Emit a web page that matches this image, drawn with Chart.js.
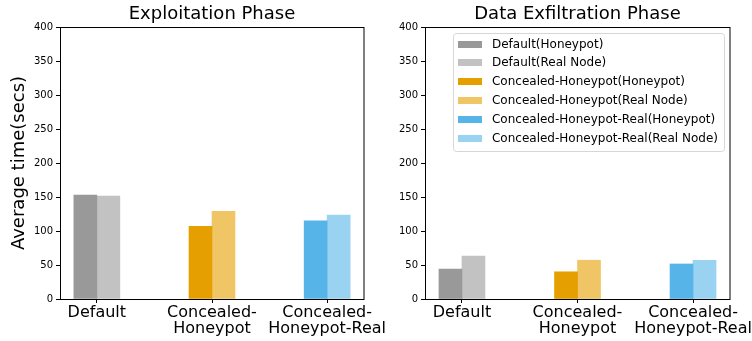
<!DOCTYPE html>
<html>
<head>
<meta charset="utf-8">
<script src="https://cdn.jsdelivr.net/npm/chart.js@4/dist/chart.umd.min.js"></script>
<style>
  body { margin: 0; background: #fff; }
  #wrap { position: relative; width: 752px; height: 341px; overflow: hidden; }
  canvas { position: absolute; top: 0; }
</style>
</head>
<body>
<div id="wrap">
  <canvas id="left" width="400" height="341" style="left:0"></canvas>
  <canvas id="right" width="376" height="341" style="left:376px"></canvas>
</div>
<script>
var categories = [['Default'], ['Concealed-', 'Honeypot'], ['Concealed-', 'Honeypot-Real']];
var exploitHoneypot = [153, 107, 115];
var exploitReal = [151.5, 129, 123.5];
var exfilHoneypot = [44, 40, 51.5];
var exfilReal = [63, 57, 57];
var honeypotColors = ['#999999', '#E69F00', '#56B4E9'];
var realColors = ['#C2C2C2', '#F0C566', '#9AD2F2'];
var legendLabels = [
  'Default(Honeypot)', 'Default(Real Node)',
  'Concealed-Honeypot(Honeypot)', 'Concealed-Honeypot(Real Node)',
  'Concealed-Honeypot-Real(Honeypot)', 'Concealed-Honeypot-Real(Real Node)'
];
var legendColors = ['#999999', '#C2C2C2', '#E69F00', '#F0C566', '#56B4E9', '#9AD2F2'];
var yTicks = [0, 50, 100, 150, 200, 250, 300, 350, 400];

var FONT = 'DejaVu Sans';

// box around the plot, like matplotlib spines
var framePlugin = {
  id: 'frame',
  afterDatasetsDraw: function(chart) {
    var a = chart.chartArea, ctx = chart.ctx;
    ctx.save();
    ctx.strokeStyle = '#000';
    ctx.lineWidth = 1;
    ctx.strokeRect(Math.round(a.left) + 0.5, Math.round(a.top) + 0.5,
      Math.round(a.right - a.left) - 0.5, Math.round(a.bottom - a.top));
    ctx.restore();
  }
};

// legend drawn inside the plot, upper right
var boxLegend = {
  id: 'boxLegend',
  afterDraw: function(chart, args, opts) {
    if (!opts.show) return;
    var a = chart.chartArea, ctx = chart.ctx;
    ctx.save();
    ctx.font = '12px "' + FONT + '"';
    var maxW = 0;
    legendLabels.forEach(function(t) { maxW = Math.max(maxW, ctx.measureText(t).width); });
    var w = 5 + 24 + 10 + maxW + 6;
    var rowH = 18.8;
    var h = 11 + rowH * (legendLabels.length - 1) + 13;
    var x = a.right - 6 - w, y = a.top + 6;
    ctx.beginPath();
    ctx.roundRect(Math.round(x) + 0.5, y + 0.5, Math.round(w), h, 3);
    ctx.fillStyle = 'rgba(255,255,255,0.8)';
    ctx.fill();
    ctx.strokeStyle = '#d6d6d6';
    ctx.lineWidth = 1;
    ctx.stroke();
    ctx.textBaseline = 'middle';
    legendLabels.forEach(function(t, i) {
      var cy = y + 11 + i * rowH;
      ctx.fillStyle = legendColors[i];
      ctx.fillRect(Math.round(x) + 5, Math.round(cy - 3.5), 24, 7);
      ctx.fillStyle = '#000';
      ctx.fillText(t, x + 39, cy + 0.5);
    });
    ctx.restore();
  }
};

function makeChart(id, title, hp, real, yTitle, yWidth, padRight, withLegend) {
  return new Chart(document.getElementById(id), {
    type: 'bar',
    data: {
      labels: categories,
      datasets: [
        { label: 'Honeypot', data: hp, backgroundColor: honeypotColors, barThickness: 23 },
        { label: 'Real Node', data: real, backgroundColor: realColors, barThickness: 23 }
      ]
    },
    options: {
      responsive: false,
      animation: false,
      layout: { padding: { left: 0, right: padRight, top: 0, bottom: 0 } },
      plugins: {
        legend: { display: false },
        tooltip: { enabled: false },
        title: {
          display: true,
          text: title,
          fullSize: false,
          color: '#000',
          font: { family: FONT, size: 18, weight: 'normal', lineHeight: 1.2 },
          padding: { top: 4, bottom: 1.4 }
        },
        boxLegend: { show: withLegend }
      },
      scales: {
        x: {
          type: 'category',
          offset: true,
          border: { display: false },
          grid: { display: true, offset: false, drawOnChartArea: false, tickLength: 4, color: '#000' },
          ticks: {
            color: '#000',
            padding: 1,
            maxRotation: 0,
            autoSkip: false,
            font: { family: FONT, size: 16, lineHeight: 1.05 }
          },
          afterBuildTicks: function(scale) {
            scale._startValue = -0.32;
            scale._valueRange = 2.64;
          },
          afterFit: function(scale) {
            scale.height = 42;
            scale.paddingLeft = 0;
            scale.paddingRight = 0;
          }
        },
        y: {
          min: 0,
          max: 400,
          border: { display: false },
          grid: { display: true, drawOnChartArea: false, tickLength: 4, color: '#000' },
          afterBuildTicks: function(scale) {
            scale.ticks = yTicks.map(function(v) { return { value: v }; });
          },
          ticks: { color: '#000', padding: 3, font: { family: FONT, size: 10 } },
          title: {
            display: !!yTitle,
            text: yTitle,
            color: '#000',
            font: { family: FONT, size: 18, lineHeight: 1.2 },
            padding: { top: 9, bottom: 0 }
          },
          afterFit: function(scale) {
            scale.width = yWidth;
            scale.paddingTop = 0;
            scale.paddingBottom = 0;
          }
        }
      }
    },
    plugins: [framePlugin, boxLegend]
  });
}

makeChart('left', 'Exploitation Phase', exploitHoneypot, exploitReal, 'Average time(secs)', 60, 36, false);
makeChart('right', 'Data Exfiltration Phase', exfilHoneypot, exfilReal, '', 49, 22, true);
</script>
</body>
</html>
